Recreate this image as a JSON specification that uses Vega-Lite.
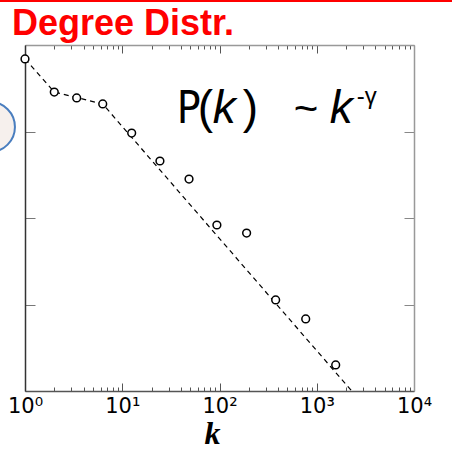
{
  "$schema": "https://vega.github.io/schema/vega-lite/v6.json",
  "width": 389,
  "height": 346,
  "autosize": "none",
  "padding": {"left": 25, "top": 45, "right": 38, "bottom": 60},
  "background": "white",
  "config": {"view": {"stroke": null}},
  "title": {
    "text": "Degree Distr.",
    "anchor": "start",
    "frame": "group",
    "font": "Liberation Sans",
    "fontSize": 36,
    "fontWeight": "bold",
    "color": "#ff0000",
    "offset": -43,
    "dx": -13
  },
  "datasets": {
    "points": [
      {"k": 1, "P": 0.69},
      {"k": 2, "P": 0.286},
      {"k": 3.4, "P": 0.244},
      {"k": 6.3, "P": 0.208},
      {"k": 12.5, "P": 0.096},
      {"k": 24.4, "P": 0.0456},
      {"k": 48.6, "P": 0.0282},
      {"k": 94, "P": 0.0083},
      {"k": 190, "P": 0.0067},
      {"k": 378, "P": 0.00113},
      {"k": 770, "P": 0.00068},
      {"k": 1566, "P": 0.0002}
    ],
    "fit": [
      {"k": 1, "P": 0.69},
      {"k": 2, "P": 0.286},
      {"k": 6.3, "P": 0.208},
      {"k": 2290, "P": 0.0001}
    ],
    "anchor": [{"k": 40, "P": 0.125}],
    "redline": [{"k": 0.55, "k2": 25000, "P": 3.227}],
    "bubble": [{"k": 0.436, "P": 0.113}]
  },
  "layer": [
    {
      "data": {"name": "redline"},
      "mark": {"type": "rule", "color": "#ff0000", "strokeWidth": 2, "clip": false},
      "encoding": {
        "x": {"field": "k", "type": "quantitative", "scale": {"type": "log", "domain": [1, 10000], "nice": false}, "axis": null},
        "x2": {"field": "k2"},
        "y": {"field": "P", "type": "quantitative", "scale": {"type": "log", "domain": [0.0001, 1], "nice": false}, "axis": null}
      }
    },
    {
      "data": {"name": "bubble"},
      "mark": {"type": "point", "shape": "circle", "filled": true, "fill": "#f6f0ed", "stroke": "#4a7ebf", "strokeWidth": 2, "size": 2500, "opacity": 1, "clip": false},
      "encoding": {
        "x": {"field": "k", "type": "quantitative", "axis": null},
        "y": {"field": "P", "type": "quantitative", "axis": null}
      }
    },
    {
      "data": {"name": "fit"},
      "mark": {"type": "line", "color": "black", "strokeWidth": 1.2, "strokeDash": [5, 4]},
      "encoding": {
        "x": {
          "field": "k", "type": "quantitative",
          "axis": {
            "orient": "top",
            "values": [1,2,3,4,5,6,7,8,9,10,20,30,40,50,60,70,80,90,100,200,300,400,500,600,700,800,900,1000,2000,3000,4000,5000,6000,7000,8000,9000,10000],
            "labels": false,
            "grid": false,
            "title": null,
            "domainColor": "#999",
            "domainWidth": 1.5,
            "tickColor": "#555",
            "tickSize": {"condition": {"test": "indexof([1,10,100,1000,10000], datum.value) >= 0", "value": -8}, "value": -4}
          }
        },
        "y": {
          "field": "P", "type": "quantitative",
          "axis": {
            "orient": "right",
            "values": [0.001, 0.01, 0.1],
            "labels": false,
            "grid": false,
            "title": null,
            "domainColor": "#999",
            "domainWidth": 1.5,
            "tickColor": "#888",
            "tickSize": -10
          }
        }
      }
    },
    {
      "data": {"name": "points"},
      "mark": {"type": "point", "shape": "circle", "filled": false, "fill": "white", "fillOpacity": 1, "stroke": "black", "strokeWidth": 1.5, "size": 60, "opacity": 1},
      "encoding": {
        "x": {
          "field": "k", "type": "quantitative",
          "axis": {
            "orient": "bottom",
            "values": [1,2,3,4,5,6,7,8,9,10,20,30,40,50,60,70,80,90,100,200,300,400,500,600,700,800,900,1000,2000,3000,4000,5000,6000,7000,8000,9000,10000],
            "labelExpr": "datum.value == 1 ? '10⁰' : datum.value == 10 ? '10¹' : datum.value == 100 ? '10²' : datum.value == 1000 ? '10³' : datum.value == 10000 ? '10⁴' : ''",
            "labelFont": "DejaVu Sans",
            "labelFontSize": 21,
            "labelColor": "black",
            "labelPadding": 12,
            "labelFlush": false,
            "labelOverlap": false,
            "labelBound": false,
            "grid": false,
            "domainColor": "#555",
            "domainWidth": 1.5,
            "tickColor": "#555",
            "tickSize": {"condition": {"test": "indexof([1,10,100,1000,10000], datum.value) >= 0", "value": -8}, "value": -4},
            "title": "k",
            "titleFont": "Liberation Serif",
            "titleFontStyle": "italic",
            "titleFontWeight": "bold",
            "titleFontSize": 32,
            "titleColor": "black",
            "titleX": 187,
            "titleY": 52,
            "titleBaseline": "alphabetic"
          }
        },
        "y": {
          "field": "P", "type": "quantitative",
          "axis": {
            "orient": "left",
            "values": [0.001, 0.01, 0.1],
            "labels": false,
            "grid": false,
            "title": null,
            "domainColor": "#333",
            "domainWidth": 1.5,
            "tickColor": "#777",
            "tickSize": -10
          }
        }
      }
    },
    {
      "data": {"name": "anchor"},
      "mark": {"type": "text", "text": "P", "font": "DejaVu Sans Condensed, Roboto", "fontSize": 44, "align": "left", "baseline": "alphabetic", "dx": -4, "color": "black"},
      "encoding": {"x": {"field": "k", "type": "quantitative", "axis": null}, "y": {"field": "P", "type": "quantitative", "axis": null}}
    },
    {
      "data": {"name": "anchor"},
      "mark": {"type": "text", "text": "(", "font": "Liberation Sans", "fontSize": 46, "align": "left", "baseline": "alphabetic", "dx": 17, "color": "black"},
      "encoding": {"x": {"field": "k", "type": "quantitative", "axis": null}, "y": {"field": "P", "type": "quantitative", "axis": null}}
    },
    {
      "data": {"name": "anchor"},
      "mark": {"type": "text", "text": "k", "font": "Liberation Sans", "fontSize": 46, "fontStyle": "italic", "align": "left", "baseline": "alphabetic", "dx": 32, "color": "black"},
      "encoding": {"x": {"field": "k", "type": "quantitative", "axis": null}, "y": {"field": "P", "type": "quantitative", "axis": null}}
    },
    {
      "data": {"name": "anchor"},
      "mark": {"type": "text", "text": ")", "font": "Liberation Sans", "fontSize": 46, "align": "left", "baseline": "alphabetic", "dx": 62, "color": "black"},
      "encoding": {"x": {"field": "k", "type": "quantitative", "axis": null}, "y": {"field": "P", "type": "quantitative", "axis": null}}
    },
    {
      "data": {"name": "anchor"},
      "mark": {"type": "text", "text": "~", "font": "Liberation Sans", "fontSize": 42, "align": "left", "baseline": "alphabetic", "dx": 113, "color": "black"},
      "encoding": {"x": {"field": "k", "type": "quantitative", "axis": null}, "y": {"field": "P", "type": "quantitative", "axis": null}}
    },
    {
      "data": {"name": "anchor"},
      "mark": {"type": "text", "text": "k", "font": "Liberation Sans", "fontSize": 46, "fontStyle": "italic", "align": "left", "baseline": "alphabetic", "dx": 149, "color": "black"},
      "encoding": {"x": {"field": "k", "type": "quantitative", "axis": null}, "y": {"field": "P", "type": "quantitative", "axis": null}}
    },
    {
      "data": {"name": "anchor"},
      "mark": {"type": "text", "text": "-γ", "font": "Liberation Sans", "fontSize": 24, "align": "left", "baseline": "alphabetic", "dx": 176, "dy": -19, "color": "black"},
      "encoding": {"x": {"field": "k", "type": "quantitative", "axis": null}, "y": {"field": "P", "type": "quantitative", "axis": null}}
    }
  ],
  "resolve": {"axis": {"x": "independent", "y": "independent"}}
}
